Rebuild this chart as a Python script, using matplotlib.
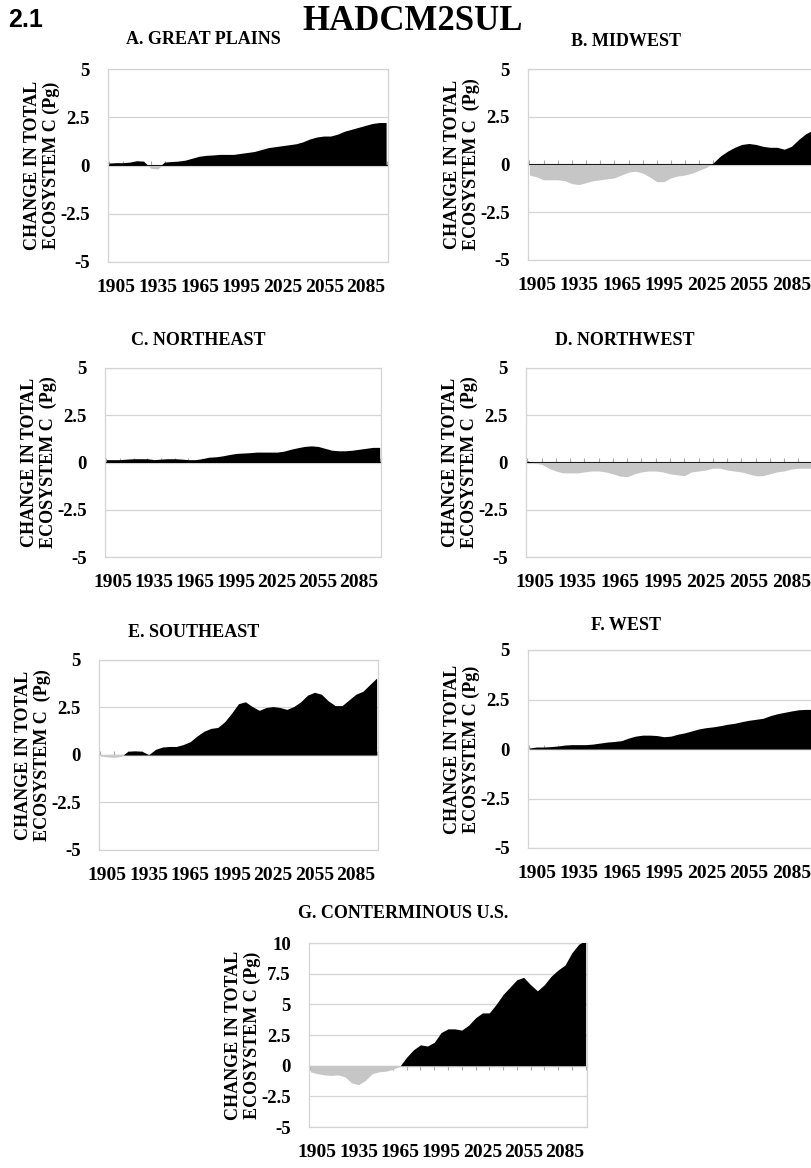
import numpy as np
import matplotlib
matplotlib.use("Agg")
import matplotlib.pyplot as plt

# years sampled every 5 years
years = np.arange(1900, 2101, 5)

great_plains = [0.1, 0.12, 0.12, 0.15, 0.22, 0.2, -0.15, -0.18, 0.15, 0.18, 0.2,
                0.25, 0.35, 0.45, 0.5, 0.52, 0.55, 0.55, 0.55, 0.6, 0.65, 0.7,
                0.8, 0.9, 0.95, 1.0, 1.05, 1.1, 1.2, 1.35, 1.45, 1.5, 1.5, 1.6,
                1.75, 1.85, 1.95, 2.05, 2.15, 2.2, 2.2]
midwest = [-0.55, -0.65, -0.8, -0.8, -0.8, -0.85, -1.0, -1.05, -0.95, -0.85, -0.8,
           -0.75, -0.7, -0.55, -0.4, -0.35, -0.45, -0.65, -0.9, -0.9, -0.7, -0.6,
           -0.55, -0.45, -0.3, -0.15, 0.1, 0.45, 0.7, 0.9, 1.05, 1.1, 1.05, 0.95,
           0.9, 0.9, 0.8, 0.95, 1.3, 1.6, 1.8]
northeast = [0.15, 0.15, 0.15, 0.18, 0.2, 0.2, 0.2, 0.15, 0.18, 0.2, 0.2, 0.18,
             0.15, 0.15, 0.2, 0.28, 0.3, 0.35, 0.42, 0.48, 0.5, 0.52, 0.55, 0.55,
             0.55, 0.55, 0.6, 0.7, 0.78, 0.85, 0.88, 0.85, 0.75, 0.65, 0.62, 0.62,
             0.65, 0.7, 0.75, 0.8, 0.8]
northwest = [0.08, -0.02, -0.1, -0.3, -0.45, -0.55, -0.55, -0.55, -0.5, -0.45,
             -0.45, -0.5, -0.6, -0.72, -0.75, -0.6, -0.5, -0.45, -0.45, -0.5, -0.6,
             -0.65, -0.7, -0.5, -0.45, -0.4, -0.3, -0.3, -0.4, -0.45, -0.5, -0.6,
             -0.7, -0.7, -0.6, -0.5, -0.45, -0.35, -0.3, -0.3, -0.3]
southeast = [-0.05, -0.1, -0.12, -0.08, 0.2, 0.22, 0.2, 0.02, 0.3, 0.42, 0.45, 0.45,
             0.55, 0.7, 1.0, 1.25, 1.4, 1.45, 1.75, 2.2, 2.7, 2.8, 2.55, 2.35, 2.5,
             2.55, 2.5, 2.4, 2.55, 2.8, 3.15, 3.3, 3.2, 2.85, 2.6, 2.6, 2.9, 3.2,
             3.35, 3.7, 4.05]
west = [0.05, 0.1, 0.1, 0.12, 0.15, 0.2, 0.22, 0.22, 0.22, 0.25, 0.3, 0.35, 0.38,
        0.42, 0.55, 0.65, 0.7, 0.7, 0.68, 0.62, 0.65, 0.75, 0.82, 0.92, 1.02, 1.08,
        1.12, 1.18, 1.25, 1.3, 1.38, 1.45, 1.5, 1.55, 1.68, 1.78, 1.85, 1.92, 1.98,
        2.0, 2.0]
conterminous = [-0.5, -0.65, -0.75, -0.8, -0.75, -0.9, -1.4, -1.55, -1.2, -0.65,
                -0.5, -0.45, -0.3, -0.05, 0.7, 1.3, 1.7, 1.6, 1.9, 2.7, 3.0, 3.0,
                2.9, 3.3, 3.9, 4.3, 4.3, 5.0, 5.8, 6.4, 7.0, 7.2, 6.6, 6.1, 6.6, 7.3,
                7.8, 8.2, 9.2, 9.9, 10.2]

xtick_years = [1905, 1935, 1965, 1995, 2025, 2055, 2085]
yticks_region = [-5, -2.5, 0, 2.5, 5]
ylabels_region = ['-5', '-2.5', '0', '2.5', '5']
yticks_us = [-5, -2.5, 0, 2.5, 5, 7.5, 10]
ylabels_us = ['-5', '-2.5', '0', '2.5', '5', '7.5', '10']

SERIF = 'Liberation Serif'
W, H = 811, 1168
fig = plt.figure(figsize=(W / 100, H / 100), dpi=100)


def panel(rect, title, title_y, vals, yt, yl, ylabel):
    l, t, r, b = rect
    ax = fig.add_axes([l / W, 1 - b / H, (r - l) / W, (b - t) / H])
    v = np.array(vals)
    ax.fill_between(years, v, 0, where=v >= 0, interpolate=True,
                    color='black', lw=0, zorder=3)
    ax.fill_between(years, v, 0, where=v <= 0, interpolate=True,
                    color='#c6c6c6', lw=0, zorder=3)
    ymin, ymax = yt[0], yt[-1]
    ax.set_ylim(ymin, ymax)
    ax.set_xlim(1899, 2101)
    ax.set_yticks(yt)
    ax.set_yticklabels(yl, fontfamily=SERIF, fontweight='bold', fontsize=13.5)
    ax.set_xticks(xtick_years)
    ax.set_xticklabels([str(y) for y in xtick_years], fontfamily=SERIF,
                       fontweight='bold', fontsize=14)
    ax.tick_params(axis='both', length=0)
    ax.tick_params(axis='x', pad=12)
    ax.tick_params(axis='y', pad=13)
    ax.grid(axis='y', color='#d4d4d4', lw=0.9, zorder=0)
    for s in ax.spines.values():
        s.set_color('#d4d4d4')
        s.set_linewidth(0.9)
    # category axis line at zero with small tick marks
    sec = ax.secondary_xaxis((0 - ymin) / (ymax - ymin))
    sec.set_xticks(np.arange(1900, 2101, 10))
    sec.set_xticklabels([])
    sec.tick_params(length=3, color='#a8a8a8', width=0.8)
    sec.spines['bottom'].set_color('#a8a8a8')
    sec.spines['bottom'].set_linewidth(0.9)
    ax.set_ylabel(ylabel, fontfamily=SERIF, fontweight='bold', fontsize=13,
                  linespacing=1.1)
    ax.yaxis.set_label_coords(-48 / (r - l), 0.5)
    fig.text(((l + r) / 2 - 45) / W, 1 - title_y / H, title, ha='center',
             va='center', fontfamily=SERIF, fontweight='bold', fontsize=13)
    return ax


lab1 = 'CHANGE IN TOTAL\nECOSYSTEM C (Pg)'
lab2 = 'CHANGE IN TOTAL\nECOSYSTEM C  (Pg)'

panel((108, 69, 388, 262), 'A. GREAT PLAINS', 40, great_plains,
      yticks_region, ylabels_region, lab1)
panel((528, 69, 814, 260), 'B. MIDWEST', 42, midwest,
      yticks_region, ylabels_region, lab2)
panel((105, 368, 381, 557), 'C. NORTHEAST', 341, northeast,
      yticks_region, ylabels_region, lab2)
panel((526, 368, 814, 557), 'D. NORTHWEST', 341, northwest,
      yticks_region, ylabels_region, lab2)
panel((99, 660, 378, 850), 'E. SOUTHEAST', 632, southeast,
      yticks_region, ylabels_region, lab2)
panel((528, 650, 814, 848), 'F. WEST', 625, west,
      yticks_region, ylabels_region, lab1)
panel((309, 943, 587, 1127), 'G. CONTERMINOUS U.S.', 914, conterminous,
      yticks_us, ylabels_us, lab1)

fig.text(8 / W, 1 - 20 / H, '2.1', ha='left', va='center',
         fontfamily='Liberation Sans', fontweight='bold', fontsize=18)
fig.text(413 / W, 1 - 21 / H, 'HADCM2SUL', ha='center', va='center',
         fontfamily=SERIF, fontweight='bold', fontsize=25)

fig.savefig('out.png', dpi=100)
